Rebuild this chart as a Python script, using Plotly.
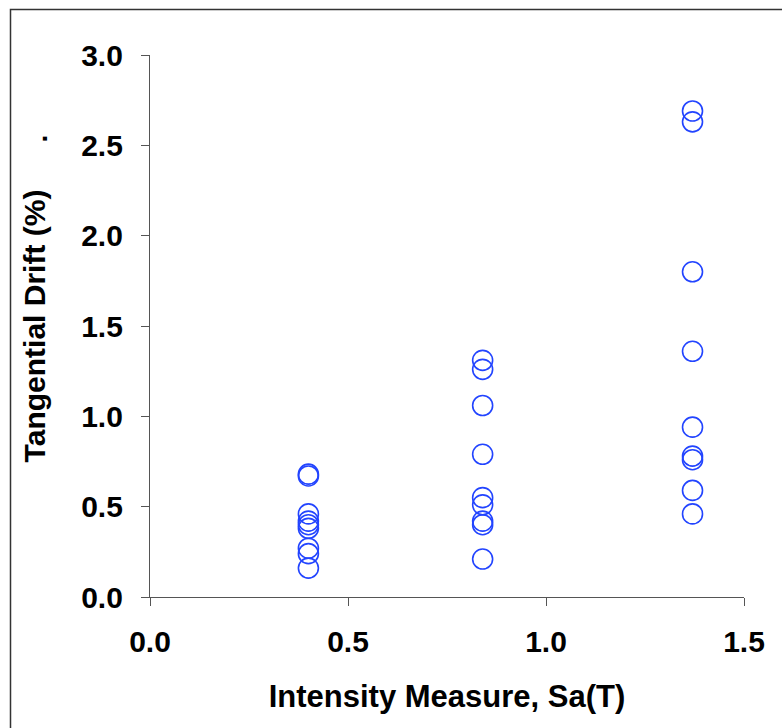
import plotly.graph_objects as go

# Data
sa_levels = [0.40, 0.84, 1.37]
drift_sa1 = [0.68, 0.67, 0.46, 0.42, 0.40, 0.38, 0.27, 0.24, 0.16]
drift_sa2 = [1.31, 1.26, 1.06, 0.79, 0.55, 0.51, 0.42, 0.40, 0.21]
drift_sa3 = [2.69, 2.63, 1.80, 1.36, 0.94, 0.78, 0.76, 0.59, 0.46]
x_ticks = [0.0, 0.5, 1.0, 1.5]
y_ticks = [0.0, 0.5, 1.0, 1.5, 2.0, 2.5, 3.0]

xs, ys = [], []
for sa, vals in zip(sa_levels, [drift_sa1, drift_sa2, drift_sa3]):
    xs += [sa] * len(vals)
    ys += vals

FONT = "Liberation Sans, Arial, sans-serif"
L, R, T, B = 150, 38, 54.5, 131
W, H = 782, 728
pw, ph = W - L - R, H - T - B

def px(x):
    return (x - L) / pw

def py(y):
    return (H - B - y) / ph

fig = go.Figure()
fig.add_trace(go.Scatter(
    x=xs, y=ys, mode="markers",
    marker=dict(symbol="circle-open", size=20, color="#2244ff",
                line=dict(width=1.6, color="#2244ff")),
    showlegend=False, hoverinfo="x+y",
))

axis_common = dict(
    showgrid=False, zeroline=False, showline=True, linecolor="#555555",
    linewidth=1.2, ticks="outside", ticklen=8, tickcolor="#555555",
    tickwidth=1.2, tickformat=".1f",
    tickfont=dict(family=FONT, size=30, color="black", weight="bold"),
)

fig.update_layout(
    width=W, height=H,
    margin=dict(l=L, r=R, t=T, b=B, pad=0),
    paper_bgcolor="white", plot_bgcolor="white",
    xaxis=dict(range=[0, 1.5], tickvals=x_ticks, ticklabelstandoff=10,
               title=dict(text="<b>Intensity Measure, Sa(T)</b>", standoff=28,
                          font=dict(family=FONT, size=31, color="black")),
               **axis_common),
    yaxis=dict(range=[0, 3.0], tickvals=y_ticks, ticklabelstandoff=12,
               title=dict(text="<b>Tangential Drift (%)</b>", standoff=26,
                          font=dict(family=FONT, size=30, color="black")),
               **axis_common),
    shapes=[dict(type="rect", xref="paper", yref="paper",
                 x0=px(10.5), x1=px(800), y0=py(9), y1=py(745),
                 line=dict(color="#333333", width=1.5), fillcolor="rgba(0,0,0,0)",
                 layer="below")],
    annotations=[dict(text="<b>.</b>", xref="paper", yref="paper",
                      x=px(37), y=py(138), showarrow=False, textangle=-90,
                      xanchor="center", yanchor="middle",
                      font=dict(family=FONT, size=28, color="black"))],
)

fig.write_html("out.html")
